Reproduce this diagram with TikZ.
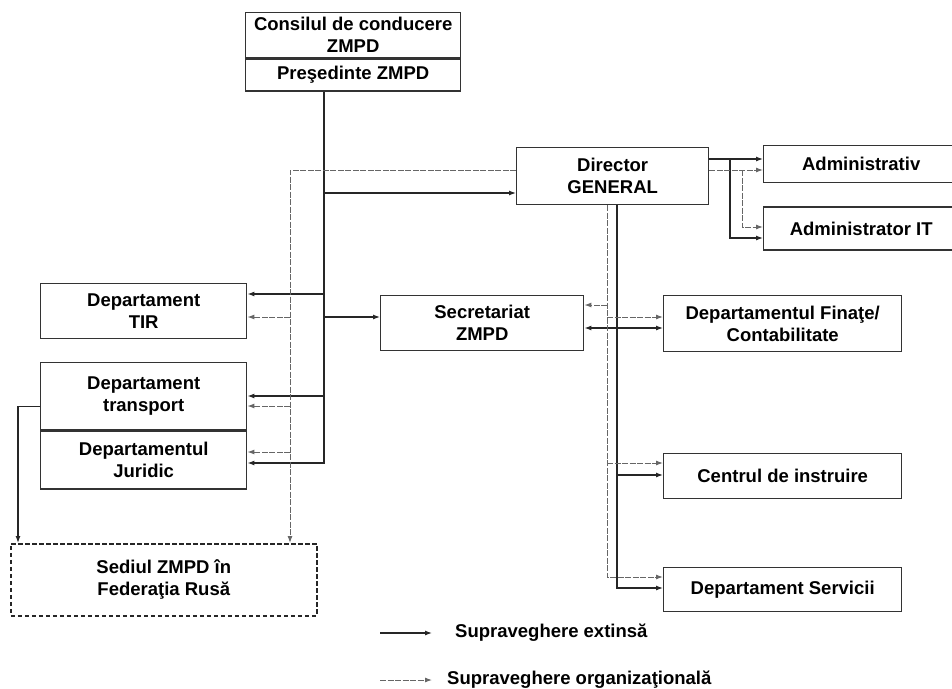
\documentclass[tikz,border=0pt]{standalone}
\usepackage{fontspec}
\setmainfont{Liberation Sans}
\usetikzlibrary{arrows.meta, positioning}

\newcommand{\boxfont}{\bfseries\fontsize{18.5}{22}\selectfont}

\begin{document}
\begin{tikzpicture}[x=1pt, y=-1pt, >={Latex[length=7pt,width=5pt]},
    box/.style={draw=black!80, line width=1.4pt, align=center, inner sep=0pt, font=\boxfont},
    ext/.style={draw=black!85, line width=1.2pt},
    org/.style={draw=black!60, line width=1pt, dash pattern=on 6pt off 1.5pt},
    legend/.style={anchor=west, inner sep=0pt, font=\boxfont}]
        \useasboundingbox (0,0) rectangle (952,688);
        % trunks
        \coordinate (sx) at (324,0);
        \coordinate (ox) at (290,0);
        \coordinate (dsx) at (617,0);
        \coordinate (dox) at (607,0);
        % top
        \node[box, anchor=north west, minimum width=215pt, minimum height=45pt] (consiliu) at (245,12) {Consilul de conducere\\ZMPD};
        \node[box, below=0pt of consiliu, minimum width=215pt, minimum height=32pt] (presedinte) {Preşedinte ZMPD};
        % director and right side
        \node[box, anchor=north west, minimum width=192pt, minimum height=57pt] (dir) at (516,147) {Director\\GENERAL};
        \node[box, anchor=north west, minimum width=195pt, minimum height=37pt] (admin) at (763,145) {Administrativ};
        \node[box, below=23pt of admin, minimum width=195pt, minimum height=43pt] (admit) {Administrator IT};
        \node[box, anchor=north west, minimum width=203pt, minimum height=55pt] (secr) at (380,295) {Secretariat\\ZMPD};
        \node[box, anchor=north west, minimum width=238pt, minimum height=56pt] (fin) at (663,295) {Departamentul Finaţe/\\Contabilitate};
        \node[box, anchor=north west, minimum width=238pt, minimum height=45pt] (centr) at (663,453) {Centrul de instruire};
        \node[box, anchor=north west, minimum width=238pt, minimum height=44pt] (serv) at (663,567) {Departament Servicii};
        % left side
        \node[box, anchor=north west, minimum width=206pt, minimum height=55pt] (tir) at (40,283) {Departament\\TIR};
        \node[box, anchor=north west, minimum width=206pt, minimum height=67pt] (transport) at (40,362) {Departament\\transport};
        \node[box, below=0pt of transport, minimum width=206pt, minimum height=58pt] (juridic) {Departamentul\\Juridic};
        \node[box, draw=black!85, line width=1.6pt, dash pattern=on 4.5pt off 2.5pt, anchor=north west, minimum width=306pt, minimum height=72pt] (sediul) at (10,543) {Sediul ZMPD în\\Federaţia Rusă};

        % supraveghere extinsa
        \draw[ext,->] (sx |- presedinte.south) |- (juridic.east |- 0,463);
        \draw[ext,->] (sx |- 0,193) -- (dir.west |- 0,193);
        \draw[ext,->] (sx |- 0,294) -- (tir.east |- 0,294);
        \draw[ext,->] (sx |- 0,317) -- (secr.west |- 0,317);
        \draw[ext,->] (sx |- 0,396) -- (transport.east |- 0,396);
        \draw[ext,->] ([yshift=-10pt]transport.west) -| ([xshift=8pt]sediul.north west);
        \draw[ext,->] (dir.east |- 0,159) -- (admin.west |- 0,159);
        \draw[ext,->] (730,159) |- (admit.west |- 0,238);
        \draw[ext,->] (dsx |- dir.south) |- (serv.west |- 0,588);
        \draw[ext,<->] (secr.east |- 0,328) -- (fin.west |- 0,328);
        \draw[ext,->] (dsx |- 0,475) -- (centr.west |- 0,475);

        % supraveghere organizationala
        \draw[org,->] (dir.west |- 0,170) -| (ox |- sediul.north);
        \draw[org,->] (ox |- 0,317) -- (tir.east |- 0,317);
        \draw[org,->] (ox |- 0,406) -- (transport.east |- 0,406);
        \draw[org,->] (ox |- 0,452) -- (juridic.east |- 0,452);
        \draw[org,->] (dir.east |- 0,170) -- (admin.west |- 0,170);
        \draw[org,->] (742,170) |- (admit.west |- 0,227);
        \draw[org,->] (dox |- dir.south) |- (serv.west |- 0,577);
        \draw[org,->] (dox |- 0,305) -- (secr.east |- 0,305);
        \draw[org,->] (dox |- 0,317) -- (fin.west |- 0,317);
        \draw[org,->] (dox |- 0,463) -- (centr.west |- 0,463);

        % legend
        \node[legend] (lext) at (455,633) {Supraveghere extinsă};
        \node[legend] (lorg) at (447,680) {Supraveghere organizaţională};
        \coordinate (lext0) at (380,633);
        \coordinate (lorg0) at (380,680);
        \draw[ext,->] (lext0) -- ([xshift=-23pt]lext.west);
        \draw[org,->] (lorg0) -- ([xshift=-15pt]lorg.west);
    \end{tikzpicture}
\end{document}
